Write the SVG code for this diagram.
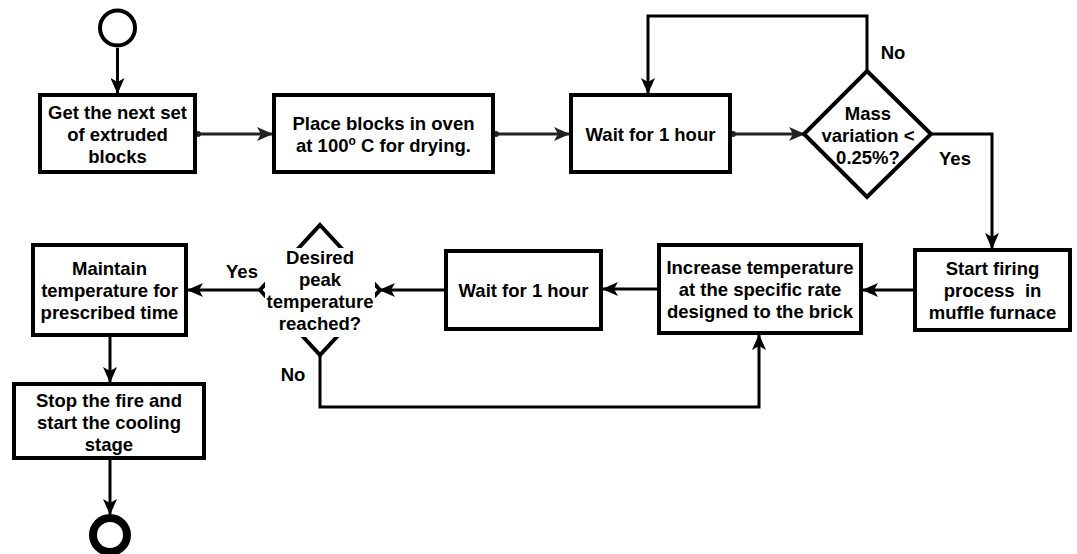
<svg xmlns="http://www.w3.org/2000/svg" width="1077" height="554" viewBox="0 0 1077 554">
<style>
.box{fill:#fff;stroke:#000;stroke-width:4}
.t{font-family:"Liberation Sans",Arial,sans-serif;font-weight:bold;font-size:18.5px;fill:#000;text-anchor:middle}
.c{fill:none;stroke:#000;stroke-width:3}
.g{fill:none;stroke:#222;stroke-width:3}
</style>
<defs>
<marker id="arr" viewBox="0 0 16 14" refX="15" refY="7" markerWidth="16" markerHeight="14" orient="auto" markerUnits="userSpaceOnUse"><path d="M0,0 L16,7 L0,14 L4,7 z" fill="#000"/></marker>
<marker id="arrg" viewBox="0 0 16 14" refX="15" refY="7" markerWidth="16" markerHeight="14" orient="auto" markerUnits="userSpaceOnUse"><path d="M0,0 L16,7 L0,14 L4,7 z" fill="#222"/></marker>
</defs>
<rect width="1077" height="554" fill="#fff"/>
<g id="connectors">
<line class="c" x1="117.5" y1="48" x2="117.5" y2="93" marker-end="url(#arr)"/>
<line class="g" x1="197" y1="134" x2="272" y2="134" marker-end="url(#arrg)"/>
<circle cx="198" cy="134" r="3" fill="#222"/>
<line class="g" x1="495" y1="134" x2="569" y2="134" marker-end="url(#arrg)"/>
<circle cx="496" cy="134" r="3" fill="#222"/>
<line class="g" x1="732" y1="134" x2="804" y2="134" marker-end="url(#arrg)"/>
<circle cx="733" cy="134" r="3" fill="#222"/>
<polyline class="c" points="867,71 867,16 648,16 648,93" marker-end="url(#arr)"/>
<polyline class="c" points="931,134 992,134 992,248" marker-end="url(#arr)"/>
<line class="c" x1="913" y1="290" x2="863" y2="290" marker-end="url(#arr)"/>
<line class="c" x1="657" y1="289" x2="603" y2="289" marker-end="url(#arr)"/>
<line class="c" x1="444" y1="290" x2="380" y2="290" marker-end="url(#arr)"/>
<line class="c" x1="260" y1="290" x2="188" y2="290" marker-end="url(#arr)"/>
<polyline class="c" points="320,355 320,407 759,407 759,335" marker-end="url(#arr)"/>
<line class="c" x1="110" y1="337" x2="110" y2="382" marker-end="url(#arr)"/>
<line class="c" x1="110" y1="460" x2="110" y2="514" marker-end="url(#arr)"/>
<text class="t" x="893" y="59">No</text>
<text class="t" x="955" y="165">Yes</text>
<text class="t" x="242" y="278">Yes</text>
<text class="t" x="293" y="381">No</text>
</g>
<g id="start">
<circle cx="117.5" cy="28" r="17.5" fill="#fff" stroke="#000" stroke-width="4"/>
</g>
<g id="n1">
<rect class="box" x="40" y="95" width="155" height="77"/>
<text class="t" x="117.5" y="119">Get the next set</text>
<text class="t" x="117.5" y="141">of extruded</text>
<text class="t" x="117.5" y="163">blocks</text>
</g>
<g id="n2">
<rect class="box" x="274" y="95" width="219" height="77"/>
<text class="t" x="383.5" y="130">Place blocks in oven</text>
<text class="t" x="383.5" y="152">at 100<tspan font-size="12" dy="-7">o</tspan><tspan dy="7"> C for drying.</tspan></text>
</g>
<g id="n3">
<rect class="box" x="571" y="95" width="159" height="77"/>
<text class="t" x="650.5" y="141">Wait for 1 hour</text>
</g>
<g id="d1">
<polygon class="box" points="867,71 931,134 867,197 804,134"/>
<text class="t" x="868" y="120">Mass</text>
<text class="t" x="868" y="142">variation &lt;</text>
<text class="t" x="868" y="164">0.25%?</text>
</g>
<g id="n4">
<rect class="box" x="915" y="250" width="155" height="80"/>
<text class="t" x="992.5" y="275">Start firing</text>
<text class="t" x="992.5" y="297" xml:space="preserve">process  in</text>
<text class="t" x="992.5" y="319">muffle furnace</text>
</g>
<g id="n5">
<rect class="box" x="659" y="245" width="202" height="88"/>
<text class="t" x="760" y="274">Increase temperature</text>
<text class="t" x="760" y="296">at the specific rate</text>
<text class="t" x="760" y="318">designed to the brick</text>
</g>
<g id="n6">
<rect class="box" x="446" y="251" width="155" height="78"/>
<text class="t" x="523.5" y="297">Wait for 1 hour</text>
</g>
<g id="d2">
<polygon class="box" points="320,225 380,290 320,355 260,290"/>
<rect x="265" y="248" width="110" height="89" fill="#fff"/>
<text class="t" x="320" y="264">Desired</text>
<text class="t" x="320" y="286">peak</text>
<text class="t" x="320" y="308">temperature</text>
<text class="t" x="320" y="330">reached?</text>
</g>
<g id="n7">
<rect class="box" x="33" y="245" width="153" height="90"/>
<text class="t" x="109.5" y="275">Maintain</text>
<text class="t" x="109.5" y="297">temperature for</text>
<text class="t" x="109.5" y="319">prescribed time</text>
</g>
<g id="n8">
<rect class="box" x="14" y="384" width="190" height="74"/>
<text class="t" x="109" y="407">Stop the fire and</text>
<text class="t" x="109" y="429">start the cooling</text>
<text class="t" x="109" y="451">stage</text>
</g>
<g id="end">
<circle cx="110" cy="535" r="17" fill="#fff" stroke="#000" stroke-width="8"/>
</g>
</svg>
